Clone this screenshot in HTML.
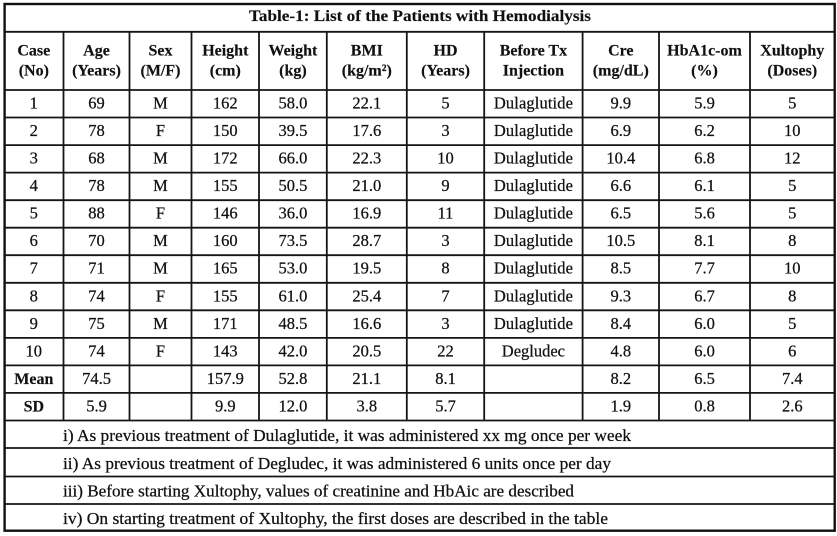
<!DOCTYPE html>
<html>
<head>
<meta charset="utf-8">
<style>
  html, body { margin:0; padding:0; background:#fff; }
  svg { display:block; }
  text { font-family: "Liberation Serif", "DejaVu Serif", serif; fill:#111; stroke:#111; stroke-width:0.25; }
  .h { font-weight:bold; font-size:16px; text-anchor:middle; stroke-width:0.15; }
  .d { font-size:16.5px; text-anchor:middle; }
  .b { font-weight:bold; font-size:16px; text-anchor:middle; stroke-width:0.15; }
  .f { font-size:16.5px; }
  line { stroke:#151515; stroke-width:1.8; }
</style>
</head>
<body>
<svg width="837" height="536" viewBox="0 0 837 536" xmlns="http://www.w3.org/2000/svg">
  <rect x="0" y="0" width="837" height="536" fill="#fff"/>

  <!-- horizontal lines -->
  <line x1="4.6" y1="31.8" x2="834.7" y2="31.8"/>
  <line x1="4.6" y1="90" x2="834.7" y2="90"/>
  <line x1="4.6" y1="117.5" x2="834.7" y2="117.5"/>
  <line x1="4.6" y1="145.1" x2="834.7" y2="145.1"/>
  <line x1="4.6" y1="172.6" x2="834.7" y2="172.6"/>
  <line x1="4.6" y1="200.2" x2="834.7" y2="200.2"/>
  <line x1="4.6" y1="227.7" x2="834.7" y2="227.7"/>
  <line x1="4.6" y1="255.2" x2="834.7" y2="255.2"/>
  <line x1="4.6" y1="282.8" x2="834.7" y2="282.8"/>
  <line x1="4.6" y1="310.3" x2="834.7" y2="310.3"/>
  <line x1="4.6" y1="337.9" x2="834.7" y2="337.9"/>
  <line x1="4.6" y1="365.4" x2="834.7" y2="365.4"/>
  <line x1="4.6" y1="392.9" x2="834.7" y2="392.9"/>
  <line x1="4.6" y1="420.5" x2="834.7" y2="420.5"/>
  <line x1="4.6" y1="448" x2="834.7" y2="448"/>
  <line x1="4.6" y1="476.5" x2="834.7" y2="476.5"/>
  <line x1="4.6" y1="504" x2="834.7" y2="504"/>

  <!-- vertical lines (header through SD) -->
  <line x1="63.5" y1="31.8" x2="63.5" y2="420.5"/>
  <line x1="129.5" y1="31.8" x2="129.5" y2="420.5"/>
  <line x1="191.5" y1="31.8" x2="191.5" y2="420.5"/>
  <line x1="259" y1="31.8" x2="259" y2="420.5"/>
  <line x1="326.8" y1="31.8" x2="326.8" y2="420.5"/>
  <line x1="406.8" y1="31.8" x2="406.8" y2="420.5"/>
  <line x1="484.2" y1="31.8" x2="484.2" y2="420.5"/>
  <line x1="582.6" y1="31.8" x2="582.6" y2="420.5"/>
  <line x1="659" y1="31.8" x2="659" y2="420.5"/>
  <line x1="750" y1="31.8" x2="750" y2="420.5"/>

  <!-- outer border -->
  <rect x="4.6" y="4" width="830.1" height="526.7" fill="none" stroke="#111" stroke-width="2.4"/>

  <!-- title -->
  <text class="h" x="420" y="21" textLength="342" lengthAdjust="spacingAndGlyphs">Table-1: List of the Patients with Hemodialysis</text>

  <!-- header -->
  <text class="h" x="33.8" y="55.5">Case</text>
  <text class="h" x="33.8" y="75.5">(No)</text>
  <text class="h" x="96.5" y="55.5">Age</text>
  <text class="h" x="96.5" y="75.5">(Years)</text>
  <text class="h" x="160.5" y="55.5">Sex</text>
  <text class="h" x="160.5" y="75.5">(M/F)</text>
  <text class="h" x="225.3" y="55.5">Height</text>
  <text class="h" x="225.3" y="75.5">(cm)</text>
  <text class="h" x="292.9" y="55.5">Weight</text>
  <text class="h" x="292.9" y="75.5">(kg)</text>
  <text class="h" x="366.8" y="55.5">BMI</text>
  <text class="h" x="366.8" y="75.5">(kg/m²)</text>
  <text class="h" x="445.5" y="55.5">HD</text>
  <text class="h" x="445.5" y="75.5">(Years)</text>
  <text class="h" x="533.4" y="55.5">Before Tx</text>
  <text class="h" x="533.4" y="75.5">Injection</text>
  <text class="h" x="620.8" y="55.5">Cre</text>
  <text class="h" x="620.8" y="75.5">(mg/dL)</text>
  <text class="h" x="704.5" y="55.5">HbA1c-om</text>
  <text class="h" x="704.5" y="75.5">(%)</text>
  <text class="h" x="792.3" y="55.5">Xultophy</text>
  <text class="h" x="792.3" y="75.5">(Doses)</text>

  <!-- data rows -->
  <g class="rows">
    <text class="d" x="33.8" y="108.5">1</text><text class="d" x="96.5" y="108.5">69</text><text class="d" x="160.5" y="108.5">M</text><text class="d" x="225.3" y="108.5">162</text><text class="d" x="292.9" y="108.5">58.0</text><text class="d" x="366.8" y="108.5">22.1</text><text class="d" x="445.5" y="108.5">5</text><text class="d" x="533.4" y="108.5" textLength="79" lengthAdjust="spacing">Dulaglutide</text><text class="d" x="620.8" y="108.5">9.9</text><text class="d" x="704.5" y="108.5">5.9</text><text class="d" x="792.3" y="108.5">5</text>
    <text class="d" x="33.8" y="136">2</text><text class="d" x="96.5" y="136">78</text><text class="d" x="160.5" y="136">F</text><text class="d" x="225.3" y="136">150</text><text class="d" x="292.9" y="136">39.5</text><text class="d" x="366.8" y="136">17.6</text><text class="d" x="445.5" y="136">3</text><text class="d" x="533.4" y="136" textLength="79" lengthAdjust="spacing">Dulaglutide</text><text class="d" x="620.8" y="136">6.9</text><text class="d" x="704.5" y="136">6.2</text><text class="d" x="792.3" y="136">10</text>
    <text class="d" x="33.8" y="163.6">3</text><text class="d" x="96.5" y="163.6">68</text><text class="d" x="160.5" y="163.6">M</text><text class="d" x="225.3" y="163.6">172</text><text class="d" x="292.9" y="163.6">66.0</text><text class="d" x="366.8" y="163.6">22.3</text><text class="d" x="445.5" y="163.6">10</text><text class="d" x="533.4" y="163.6" textLength="79" lengthAdjust="spacing">Dulaglutide</text><text class="d" x="620.8" y="163.6">10.4</text><text class="d" x="704.5" y="163.6">6.8</text><text class="d" x="792.3" y="163.6">12</text>
    <text class="d" x="33.8" y="191.1">4</text><text class="d" x="96.5" y="191.1">78</text><text class="d" x="160.5" y="191.1">M</text><text class="d" x="225.3" y="191.1">155</text><text class="d" x="292.9" y="191.1">50.5</text><text class="d" x="366.8" y="191.1">21.0</text><text class="d" x="445.5" y="191.1">9</text><text class="d" x="533.4" y="191.1" textLength="79" lengthAdjust="spacing">Dulaglutide</text><text class="d" x="620.8" y="191.1">6.6</text><text class="d" x="704.5" y="191.1">6.1</text><text class="d" x="792.3" y="191.1">5</text>
    <text class="d" x="33.8" y="218.7">5</text><text class="d" x="96.5" y="218.7">88</text><text class="d" x="160.5" y="218.7">F</text><text class="d" x="225.3" y="218.7">146</text><text class="d" x="292.9" y="218.7">36.0</text><text class="d" x="366.8" y="218.7">16.9</text><text class="d" x="445.5" y="218.7">11</text><text class="d" x="533.4" y="218.7" textLength="79" lengthAdjust="spacing">Dulaglutide</text><text class="d" x="620.8" y="218.7">6.5</text><text class="d" x="704.5" y="218.7">5.6</text><text class="d" x="792.3" y="218.7">5</text>
    <text class="d" x="33.8" y="246.2">6</text><text class="d" x="96.5" y="246.2">70</text><text class="d" x="160.5" y="246.2">M</text><text class="d" x="225.3" y="246.2">160</text><text class="d" x="292.9" y="246.2">73.5</text><text class="d" x="366.8" y="246.2">28.7</text><text class="d" x="445.5" y="246.2">3</text><text class="d" x="533.4" y="246.2" textLength="79" lengthAdjust="spacing">Dulaglutide</text><text class="d" x="620.8" y="246.2">10.5</text><text class="d" x="704.5" y="246.2">8.1</text><text class="d" x="792.3" y="246.2">8</text>
    <text class="d" x="33.8" y="273.7">7</text><text class="d" x="96.5" y="273.7">71</text><text class="d" x="160.5" y="273.7">M</text><text class="d" x="225.3" y="273.7">165</text><text class="d" x="292.9" y="273.7">53.0</text><text class="d" x="366.8" y="273.7">19.5</text><text class="d" x="445.5" y="273.7">8</text><text class="d" x="533.4" y="273.7" textLength="79" lengthAdjust="spacing">Dulaglutide</text><text class="d" x="620.8" y="273.7">8.5</text><text class="d" x="704.5" y="273.7">7.7</text><text class="d" x="792.3" y="273.7">10</text>
    <text class="d" x="33.8" y="301.3">8</text><text class="d" x="96.5" y="301.3">74</text><text class="d" x="160.5" y="301.3">F</text><text class="d" x="225.3" y="301.3">155</text><text class="d" x="292.9" y="301.3">61.0</text><text class="d" x="366.8" y="301.3">25.4</text><text class="d" x="445.5" y="301.3">7</text><text class="d" x="533.4" y="301.3" textLength="79" lengthAdjust="spacing">Dulaglutide</text><text class="d" x="620.8" y="301.3">9.3</text><text class="d" x="704.5" y="301.3">6.7</text><text class="d" x="792.3" y="301.3">8</text>
    <text class="d" x="33.8" y="328.8">9</text><text class="d" x="96.5" y="328.8">75</text><text class="d" x="160.5" y="328.8">M</text><text class="d" x="225.3" y="328.8">171</text><text class="d" x="292.9" y="328.8">48.5</text><text class="d" x="366.8" y="328.8">16.6</text><text class="d" x="445.5" y="328.8">3</text><text class="d" x="533.4" y="328.8" textLength="79" lengthAdjust="spacing">Dulaglutide</text><text class="d" x="620.8" y="328.8">8.4</text><text class="d" x="704.5" y="328.8">6.0</text><text class="d" x="792.3" y="328.8">5</text>
    <text class="d" x="33.8" y="356.4">10</text><text class="d" x="96.5" y="356.4">74</text><text class="d" x="160.5" y="356.4">F</text><text class="d" x="225.3" y="356.4">143</text><text class="d" x="292.9" y="356.4">42.0</text><text class="d" x="366.8" y="356.4">20.5</text><text class="d" x="445.5" y="356.4">22</text><text class="d" x="533.4" y="356.4">Degludec</text><text class="d" x="620.8" y="356.4">4.8</text><text class="d" x="704.5" y="356.4">6.0</text><text class="d" x="792.3" y="356.4">6</text>
    <text class="b" x="33.8" y="383.9">Mean</text><text class="d" x="96.5" y="383.9">74.5</text><text class="d" x="225.3" y="383.9">157.9</text><text class="d" x="292.9" y="383.9">52.8</text><text class="d" x="366.8" y="383.9">21.1</text><text class="d" x="445.5" y="383.9">8.1</text><text class="d" x="620.8" y="383.9">8.2</text><text class="d" x="704.5" y="383.9">6.5</text><text class="d" x="792.3" y="383.9">7.4</text>
    <text class="b" x="33.8" y="411.4">SD</text><text class="d" x="96.5" y="411.4">5.9</text><text class="d" x="225.3" y="411.4">9.9</text><text class="d" x="292.9" y="411.4">12.0</text><text class="d" x="366.8" y="411.4">3.8</text><text class="d" x="445.5" y="411.4">5.7</text><text class="d" x="620.8" y="411.4">1.9</text><text class="d" x="704.5" y="411.4">0.8</text><text class="d" x="792.3" y="411.4">2.6</text>
  </g>

  <!-- footnotes -->
  <text class="f" x="63" y="441" textLength="568" lengthAdjust="spacingAndGlyphs">i) As previous treatment of Dulaglutide, it was administered xx mg once per week</text>
  <text class="f" x="63" y="468.8" textLength="548" lengthAdjust="spacingAndGlyphs">ii) As previous treatment of Degludec, it was administered 6 units once per day</text>
  <text class="f" x="63" y="496.4" textLength="511" lengthAdjust="spacingAndGlyphs">iii) Before starting Xultophy, values of creatinine and HbAic are described</text>
  <text class="f" x="63" y="524" textLength="545" lengthAdjust="spacingAndGlyphs">iv) On starting treatment of Xultophy, the first doses are described in the table</text>
</svg>
</body>
</html>
